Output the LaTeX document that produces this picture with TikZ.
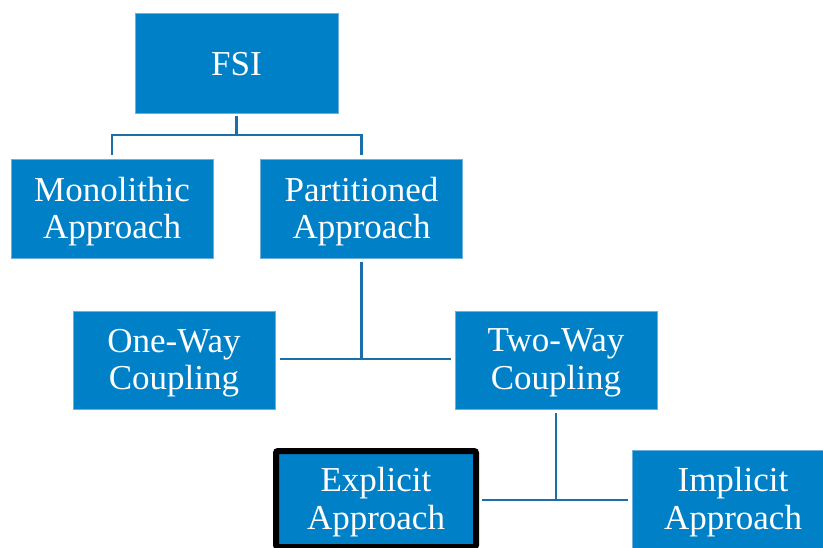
\documentclass[tikz,border=0pt]{standalone}
\usepackage{fontspec}
\setmainfont{Liberation Serif}
\definecolor{boxblue}{RGB}{0,128,198}
\definecolor{boxedge}{RGB}{110,175,220}
\definecolor{linkblue}{RGB}{28,110,170}
\begin{document}
\begin{tikzpicture}[x=1pt,y=-1pt,
  box/.style={fill=boxblue,draw=boxedge,line width=0.6pt,
    minimum width=202pt,minimum height=98pt,inner sep=0pt},
  selbox/.style={box,draw=black,line width=6pt,rounded corners=2pt,
    minimum width=200pt,minimum height=96pt},
  lbl/.style={text=white,align=center,inner sep=0pt,
    font=\fontsize{35}{37.5}\selectfont},
  link/.style={draw=linkblue,line width=2.6pt}]
\useasboundingbox (0,0) rectangle (823,547);
\clip (0,0) rectangle (823,547);
% boxes
\node[box,minimum width=203pt,minimum height=100pt] (fsi) at (236.5,63) {};
\node[box,minimum height=99pt] (mono) at (112,208.5) {};
\node[box,minimum height=99pt] (part) at (361.5,208.5) {};
\node[box] (one) at (174,360) {};
\node[box] (two) at (556,360) {};
\node[selbox] (expl) at (376,499) {};
\node[box] (impl) at (733,499) {};
% labels
\node[lbl] (fsit) at ([yshift=-1pt]fsi.center) {FSI};
\node[lbl] (monot) at ([yshift=-3pt]mono.center) {Monolithic\\Approach};
\node[lbl] (partt) at ([yshift=-3pt]part.center) {Partitioned\\Approach};
\node[lbl] (onet) at ([yshift=-3pt]one.center) {One-Way\\Coupling};
\node[lbl] (twot) at ([yshift=-3pt]two.center) {Two-Way\\Coupling};
\node[lbl] (explt) at ([yshift=-3pt]expl.center) {Explicit\\Approach};
\node[lbl] (implt) at ([yshift=-3pt]impl.center) {Implicit\\Approach};
% junctions
\coordinate (j1) at (236.5,135);
\coordinate (j2) at (361.5,359);
\coordinate (j3) at (556,500);
% connectors
\draw[link] ([yshift=-3pt]fsi.south) -- (j1);
\draw[link] ([yshift=4pt]mono.north) |- (j1) -| ([yshift=4pt]part.north);
\draw[link] ([yshift=-4pt]part.south) -- (j2);
\draw[link] ([xshift=5pt]one.east |- j2) -- ([xshift=-4pt]two.west |- j2);
\draw[link] ([yshift=-4pt]two.south) -- (j3);
\draw[link] ([xshift=3pt]expl.east |- j3) -- ([xshift=-4pt]impl.west |- j3);
\end{tikzpicture}
\end{document}
